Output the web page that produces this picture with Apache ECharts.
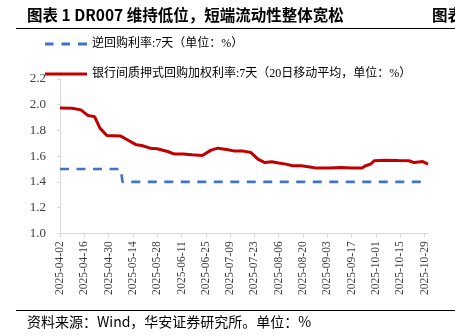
<!DOCTYPE html>
<html>
<head>
<meta charset="utf-8">
<script src="https://cdn.jsdelivr.net/npm/echarts@6/dist/echarts.min.js"></script>
<style>html,body{margin:0;padding:0;background:#fff;}#c{width:455px;height:336px;}</style>
</head>
<body>
<div id="c"></div>
<script>
// Axis range (daily categories) and tick labels
const startDate = '2025-04-02';
const endDate = '2025-10-31';
const tickLabels = ['2025-04-02','2025-04-16','2025-04-30','2025-05-14','2025-05-28','2025-06-11','2025-06-25','2025-07-09','2025-07-23','2025-08-06','2025-08-20','2025-09-03','2025-09-17','2025-10-01','2025-10-15','2025-10-29'];
const yTicks = [1.0, 1.2, 1.4, 1.6, 1.8, 2.0, 2.2];

// Series names
const nameRepo = '逆回购利率:7天（单位：%）';
const nameDR = '银行间质押式回购加权利率:7天（20日移动平均，单位：%）';

// Reverse repo 7D rate (step)
const repoDates = ['2025-04-02','2025-05-07','2025-05-08','2025-10-31'];
const repoValues = [1.50, 1.50, 1.40, 1.40];

// DR007 20-day moving average (read at key points)
const drDates = ['2025-04-02','2025-04-09','2025-04-14','2025-04-18','2025-04-22','2025-04-25','2025-04-29','2025-05-07','2025-05-10','2025-05-16','2025-05-19','2025-05-24','2025-05-28','2025-06-03','2025-06-07','2025-06-12','2025-06-17','2025-06-23','2025-06-28','2025-07-02','2025-07-07','2025-07-11','2025-07-16','2025-07-21','2025-07-25','2025-07-29','2025-08-02','2025-08-06','2025-08-10','2025-08-14','2025-08-19','2025-08-23','2025-08-28','2025-09-04','2025-09-11','2025-09-17','2025-09-23','2025-09-25','2025-09-28','2025-09-30','2025-10-06','2025-10-14','2025-10-20','2025-10-23','2025-10-28','2025-10-31'];
const drValues = [1.975,1.972,1.960,1.917,1.906,1.818,1.760,1.756,1.733,1.688,1.683,1.662,1.657,1.636,1.616,1.616,1.610,1.605,1.647,1.662,1.652,1.641,1.641,1.628,1.577,1.550,1.556,1.546,1.538,1.525,1.525,1.518,1.507,1.507,1.511,1.507,1.507,1.525,1.538,1.564,1.569,1.566,1.564,1.550,1.558,1.538];

function pad(n){return (n<10?'0':'')+n;}
function buildDays(s, e){
  const out = [];
  const d = new Date(s + 'T00:00:00Z');
  const end = new Date(e + 'T00:00:00Z');
  while (d <= end) {
    out.push(d.getUTCFullYear() + '-' + pad(d.getUTCMonth()+1) + '-' + pad(d.getUTCDate()));
    d.setUTCDate(d.getUTCDate() + 1);
  }
  return out;
}
const days = buildDays(startDate, endDate);
const tickSet = new Set(tickLabels);

const serif = "'Liberation Serif','Noto Sans CJK SC',serif";
const chart = echarts.init(document.getElementById('c'), null, {renderer: 'canvas'});
chart.setOption({
  animation: false,
  backgroundColor: '#fff',
  grid: {left: 60, right: 27, top: 79, bottom: 102.7, containLabel: false},
  legend: {
    orient: 'vertical', left: 45, top: 37, padding: 0, itemGap: 16,
    itemWidth: 42, itemHeight: 3,
    textStyle: {fontFamily: serif, fontSize: 12, color: '#000', lineHeight: 14},
    data: [
      {name: nameRepo, icon: 'path://M0,0h8.5v3h-8.5z M16.5,0h8.5v3h-8.5z M33,0h9v3h-9z'},
      {name: nameDR, icon: 'rect'}
    ]
  },
  xAxis: {
    type: 'category', data: days, boundaryGap: false,
    axisLine: {lineStyle: {color: '#d9d9d9', width: 1}},
    axisTick: {show: true, length: 4, interval: function(i, v){ return tickSet.has(v); }, lineStyle: {color: '#d9d9d9'}},
    axisLabel: {interval: function(i, v){ return tickSet.has(v); }, rotate: 90, margin: 8, fontFamily: "'Liberation Serif',serif", fontSize: 11.5, color: '#404040'},
    splitLine: {show: false}
  },
  yAxis: {
    type: 'value', min: yTicks[0], max: yTicks[yTicks.length-1], interval: 0.2,
    axisLine: {show: true, lineStyle: {color: '#d9d9d9'}},
    axisTick: {show: true, length: 3, lineStyle: {color: '#d9d9d9'}},
    axisLabel: {formatter: function(v){ return v.toFixed(1); }, margin: 14, fontFamily: "'Liberation Serif',serif", fontSize: 13, color: '#404040'},
    splitLine: {show: false}
  },
  series: [
    {
      name: nameRepo, type: 'line', symbol: 'none',
      data: repoDates.map((d, i) => [d, repoValues[i]]),
      lineStyle: {color: '#4472C4', width: 2.6, type: [9, 7.5]},
      itemStyle: {color: '#4472C4'}
    },
    {
      name: nameDR, type: 'line', symbol: 'none',
      data: drDates.map((d, i) => [d, drValues[i]]),
      lineStyle: {color: '#C00000', width: 3},
      itemStyle: {color: '#C00000'}
    }
  ],
  graphic: [
    {type: 'text', left: 27, top: 7, style: {text: '图表 1 DR007 维持低位，短端流动性整体宽松', fontFamily: "'Noto Sans CJK SC',sans-serif", fontWeight: 'bold', fontSize: 15.5, fill: '#000'}},
    {type: 'text', left: 432, top: 7, style: {text: '图表 2', fontFamily: "'Noto Sans CJK SC',sans-serif", fontWeight: 'bold', fontSize: 15.5, fill: '#000'}},
    {type: 'line', shape: {x1: 16, y1: 28.5, x2: 455, y2: 28.5}, style: {stroke: '#000', lineWidth: 1}},
    {type: 'line', shape: {x1: 16, y1: 310.5, x2: 455, y2: 310.5}, style: {stroke: '#000', lineWidth: 1}},
    {type: 'text', left: 27, top: 315, style: {text: '资料来源：Wind，华安证券研究所。单位：%', fontFamily: "'Noto Sans CJK SC',sans-serif", fontSize: 14, fill: '#000'}}
  ]
});
</script>
</body>
</html>
